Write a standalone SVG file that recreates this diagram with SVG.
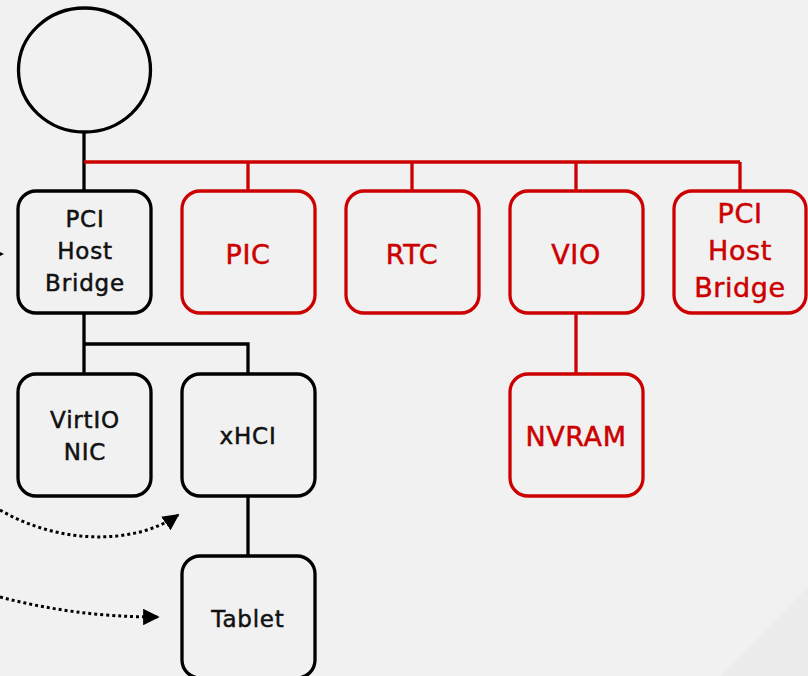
<svg xmlns="http://www.w3.org/2000/svg" width="808" height="676" viewBox="0 0 808 676">
  <style>
    .box { fill: none; stroke-width: 3.3; }
    .blk { stroke: #000; }
    .red { stroke: #cc0000; }
    .lbl { font-family: "DejaVu Sans", "Liberation Sans", sans-serif; text-anchor: middle; stroke-width: 0.5px; }
    .lb { fill: #111; stroke: #111; font-size: 23px; letter-spacing: 0.8px; }
    .lr { fill: #cc0000; stroke: #cc0000; font-size: 27px; letter-spacing: 0.6px; }
    .wire { fill: none; stroke-width: 3.3; }
    .dot { fill: none; stroke: #000; stroke-width: 3; stroke-dasharray: 3 3; }
  </style>
  <defs>
    <marker id="tip" viewBox="0 0 10 10" refX="9" refY="5" markerWidth="5.5" markerHeight="5.5" orient="auto" markerUnits="strokeWidth">
      <path d="M0,0 L10,5 L0,10 Z" fill="#000"/>
    </marker>
  </defs>

  <!-- background -->
  <rect width="808" height="676" fill="#f1f1f1"/>
  <polygon points="808,587 808,676 720,676" fill="#ececec"/>

  <!-- connectors -->
  <g id="connectors">
    <path class="wire blk" d="M84,132 V191"/>
    <path class="wire red" d="M84,162 H740 M248,162 V191 M412,162 V191 M576,162 V191 M740,162 V191"/>
    <path class="wire blk" d="M84,313 V374 M84,344 H248 V374"/>
    <path class="wire blk" d="M248,496 V556"/>
    <path class="wire red" d="M576,313 V374"/>
    <polygon points="-8,248 4,254 -8,260" fill="#000"/>
    <path class="dot" d="M0,510 C60,545 135,545 178,515" marker-end="url(#tip)"/>
    <path class="dot" d="M0,597 C50,610 100,617 158,617" marker-end="url(#tip)"/>
  </g>

  <!-- root -->
  <g id="root">
    <ellipse cx="84.5" cy="70" rx="66" ry="62" fill="none" stroke="#000" stroke-width="3.3"/>
  </g>

  <g id="pci-host-bridge">
    <rect class="box blk" x="18" y="191" width="133" height="122" rx="18"/>
    <text class="lbl lb" x="85" y="227">PCI</text>
    <text class="lbl lb" x="85" y="259">Host</text>
    <text class="lbl lb" x="85" y="291">Bridge</text>
  </g>

  <g id="pic">
    <rect class="box red" x="182" y="191" width="133" height="122" rx="18"/>
    <text class="lbl lr" x="248" y="264">PIC</text>
  </g>

  <g id="rtc">
    <rect class="box red" x="346" y="191" width="133" height="122" rx="18"/>
    <text class="lbl lr" x="412" y="264">RTC</text>
  </g>

  <g id="vio">
    <rect class="box red" x="510" y="191" width="133" height="122" rx="18"/>
    <text class="lbl lr" x="576" y="264">VIO</text>
  </g>

  <g id="pci-host-bridge-2">
    <rect class="box red" x="674" y="191" width="132" height="122" rx="18"/>
    <text class="lbl lr" x="740" y="223">PCI</text>
    <text class="lbl lr" x="740" y="260">Host</text>
    <text class="lbl lr" x="740" y="297">Bridge</text>
  </g>

  <g id="virtio-nic">
    <rect class="box blk" x="18" y="374" width="133" height="122" rx="18"/>
    <text class="lbl lb" x="85" y="428">VirtIO</text>
    <text class="lbl lb" x="85" y="460">NIC</text>
  </g>

  <g id="xhci">
    <rect class="box blk" x="182" y="374" width="133" height="122" rx="18"/>
    <text class="lbl lb" x="248" y="444">xHCI</text>
  </g>

  <g id="nvram">
    <rect class="box red" x="510" y="374" width="133" height="122" rx="18"/>
    <text class="lbl lr" x="576" y="446">NVRAM</text>
  </g>

  <g id="tablet">
    <rect class="box blk" x="182" y="556" width="133" height="122" rx="18"/>
    <text class="lbl lb" x="248" y="627">Tablet</text>
  </g>
</svg>
